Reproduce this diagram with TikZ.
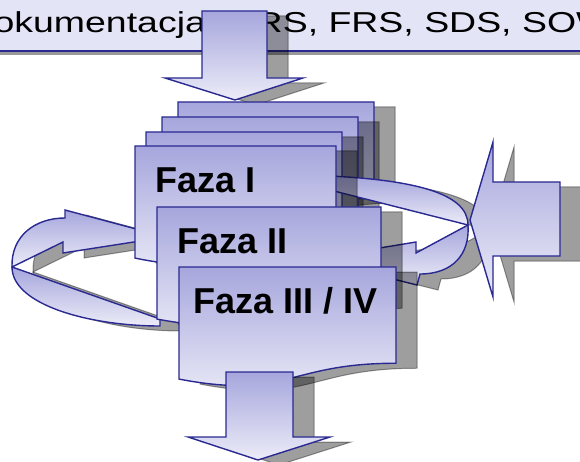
\documentclass[tikz,border=0pt]{standalone}
\usepackage{fontspec}
\setmainfont{Liberation Sans}
\usepackage{graphicx}
\definecolor{fzblue}{RGB}{41,41,145}
\definecolor{fztop}{RGB}{166,166,221}
\definecolor{fzbot}{RGB}{236,236,248}
\definecolor{fzband}{RGB}{228,228,247}
\usetikzlibrary{positioning}
% page with a wavy lower edge: left, top, width, height
\newcommand{\docpath}[4]{(#1,#2) -- ({#1+#3},#2) -- ({#1+#3},{#2+0.802*#4}) .. controls ({#1+0.5*#3},{#2+0.802*#4}) and ({#1+0.5*#3},{#2+1.1075*#4}) .. (#1,{#2+0.934*#4}) -- cycle}
\newcommand{\withshadow}[1]{\path[dropshade,shift={(21,5)}] #1; \path[blockshape] #1;}

\begin{document}
\begin{tikzpicture}[x=1pt,y=-1pt,
  blockshape/.style={draw=fzblue,line width=1.4pt,top color=fztop,bottom color=fzbot},
  dropshade/.style={fill=black,draw=black,line width=1pt,opacity=0.38},
  fazatext/.style={font=\fontsize{36}{40}\selectfont\bfseries,anchor=base west,inner sep=0pt}]
  \useasboundingbox (0,0) rectangle (580,462);
  \clip (0,0) rectangle (580,462);
  \fill[fzband] (0,0) rectangle (580,50);
  \fill[black!40] (0,51) rectangle (580,55);
  \draw[fzblue,line width=2pt] (0,51) -- (580,51);
  \node[anchor=base west,inner sep=0pt,font=\fontsize{28.8}{34}\selectfont] (title) at (-33.6,33) {\scalebox{1.3}[1]{Dokumentacja (URS, FRS, SDS, SOW)}};
  % input from the top
  \withshadow{(202,11) -- (267,11) -- (267,78) -- (303,78) -- (235,100) -- (165,78) -- (202,78) -- cycle}
  % pages behind the first phase
  \withshadow{\docpath{178}{102}{196}{120}}
  \withshadow{\docpath{162}{117}{196}{120}}
  \withshadow{\docpath{146}{132}{196}{120}}
  % loop back on the left
  \withshadow{(12,267) .. controls (12,305) and (90,326) .. (160,326) -- (160,319) -- cycle}
  \withshadow{(12,267) .. controls (11,236) and (35,218) .. (65,218) -- (65,210) -- (166,237) -- (63,253) -- (63,242) -- cycle}
  % loop on the right
  \withshadow{(330,176) .. controls (410,180) and (468,192) .. (468,225) -- (330,190) -- cycle}
  \withshadow{(468,225) .. controls (470,255) and (452,274) .. (420,274) -- (417,285) -- (313,259) -- (416,242) -- (416,253) -- cycle}
  % phases
  \withshadow{\docpath{135}{146}{201}{120}}
  \node[fazatext] (faza1) at (155,193) {Faza I};
  \withshadow{\docpath{157}{207}{224}{120}}
  \node[fazatext] (faza2) at (177,253) {Faza II};
  \withshadow{\docpath{179}{267}{217}{120}}
  \node[fazatext] (faza3) at (193,313) {Faza III / IV};
  % output at the bottom
  \withshadow{(226,372) -- (293,372) -- (293,437) -- (330,437) -- (258,460) -- (188,437) -- (226,437) -- cycle}
  % input from the right
  \withshadow{(560,182) -- (560,256) -- (493,256) -- (493,297) -- (470,220) -- (493,142) -- (493,182) -- cycle}
\end{tikzpicture}
\end{document}
